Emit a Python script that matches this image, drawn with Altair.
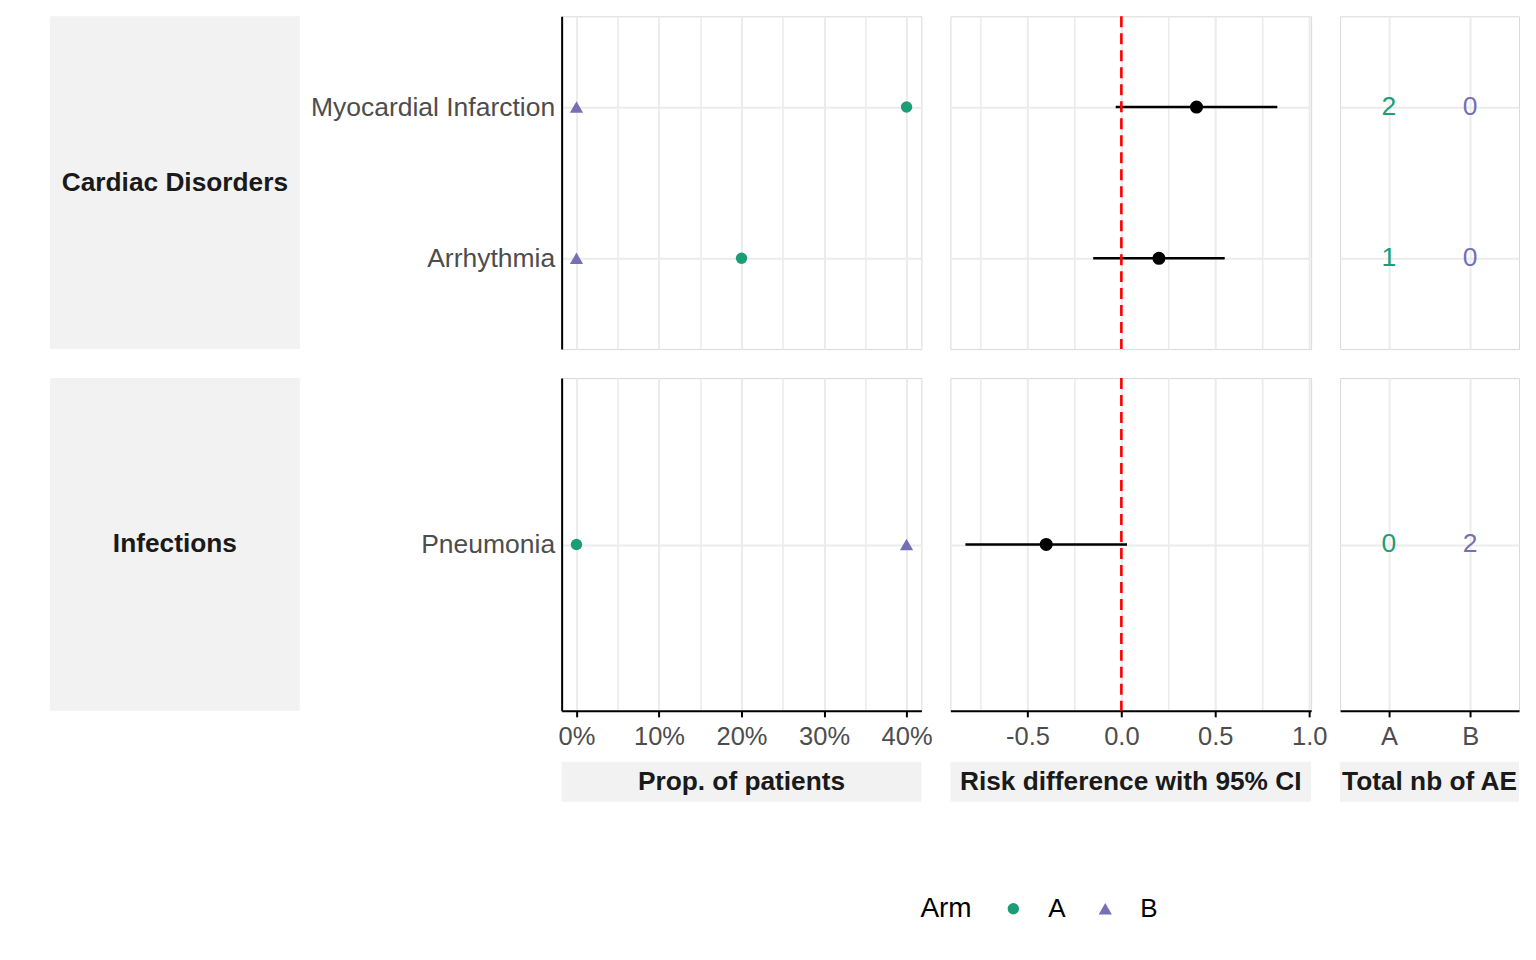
import altair as alt
import pandas as pd

# ---------------- data ----------------
soc = ["Cardiac Disorders", "Cardiac Disorders", "Infections"]
pt = ["Myocardial Infarction", "Arrhythmia", "Pneumonia"]
arms = ["A", "B"]
prop_a = [0.40, 0.20, 0.00]
prop_b = [0.00, 0.00, 0.40]
n_a = [2, 1, 0]
n_b = [0, 0, 2]
rd = [0.40, 0.20, -0.40]
rd_lo = [-0.03, -0.15, -0.83]
rd_hi = [0.83, 0.55, 0.03]
ref_line = [0.0]
prop_ticks = [0.0, 0.05, 0.10, 0.15, 0.20, 0.25, 0.30, 0.35, 0.40]
rd_ticks = [-0.75, -0.5, -0.25, 0.0, 0.25, 0.5, 0.75, 1.0]
panel_titles = ["Prop. of patients", "Risk difference with 95% CI", "Total nb of AE"]
soc_levels = ["Cardiac Disorders", "Infections"]

GREEN = "#1B9E77"
PURPLE = "#7570B3"
FONT = "Liberation Sans"
STRIP = "#F2F2F2"
GRID = "#EBEBEB"

long_rows = []
for s, p, pa, pb, na, nb in zip(soc, pt, prop_a, prop_b, n_a, n_b):
    long_rows.append({"soc": s, "pt": p, "arm": "A", "prop": pa, "n": na})
    long_rows.append({"soc": s, "pt": p, "arm": "B", "prop": pb, "n": nb})
long = pd.DataFrame(long_rows)
rd_df = pd.DataFrame({"soc": soc, "pt": pt, "rd": rd, "lo": rd_lo, "hi": rd_hi})
ref_df = pd.DataFrame({"x": ref_line})

W_STRIP, W_PROP, W_RD, W_AE = 250, 360, 361, 179
GAP = 29
W_COL0 = W_STRIP + 262 - GAP   # strip + room for the y labels
H = 333
H_BOT = 62                      # bottom strips: 22 px room for axis labels + 40 px strip
NO_VIEW = alt.ViewBackground(fill="transparent", stroke="transparent")
G_MAJOR, G_MINOR = 2.0, 1.6

legend = alt.Legend(
    title="Arm", orient="none", legendX=871, legendY=880, direction="horizontal",
    titleOrient="left", titleFontSize=28, titleFontWeight="normal", titleColor="black",
    titleFont=FONT, labelFont=FONT, labelFontSize=26, labelColor="black",
    symbolSize=130, labelOffset=22, columnPadding=26, titlePadding=28,
    symbolStrokeWidth=0, padding=0,
)


def x_axis(values, test, label_expr, bottom):
    ax = dict(
        values=values, title=None, grid=True, gridColor=GRID,
        gridWidth={"condition": {"test": test, "value": G_MAJOR}, "value": G_MINOR},
    )
    if bottom:
        ax.update(
            labels=True, labelExpr=label_expr, labelFont=FONT, labelFontSize=25.5,
            labelColor="#4D4D4D", labelPadding=8, ticks=True, tickSize=6, tickWidth=2,
            tickColor={"condition": {"test": test, "value": "black"}, "value": "transparent"},
            domain=True, domainColor="black", domainWidth=2, labelFlush=False,
        )
    else:
        ax.update(labels=False, ticks=False, domain=False)
    return alt.Axis(**ax)


def y_enc(order, labels):
    if labels:
        ax = alt.Axis(
            title=None, labels=True, labelFont=FONT, labelFontSize=26.5, labelColor="#4D4D4D",
            labelPadding=7, labelLimit=400, ticks=False, domain=True, domainColor="black",
            domainWidth=2, grid=True, gridColor=GRID, gridWidth=G_MAJOR,
        )
    else:
        ax = alt.Axis(title=None, labels=False, ticks=False, domain=False,
                      grid=True, gridColor=GRID, gridWidth=G_MAJOR)
    return alt.Y("pt:N", scale=alt.Scale(type="point", domain=order, padding=0.6), axis=ax)


def strip_cell(text, strip_w, cell_w, cell_h, top):
    df = pd.DataFrame({"t": [text]})
    base = alt.Chart(df)
    rect = base.mark_rect(color=STRIP).encode(
        x=alt.value(0), x2=alt.value(strip_w), y=alt.value(top), y2=alt.value(cell_h))
    txt = base.mark_text(font=FONT, fontSize=26.3, fontWeight="bold", color="#1A1A1A",
                         align="center", baseline="middle").encode(
        text="t:N", x=alt.value(strip_w / 2), y=alt.value(top + (cell_h - top) / 2))
    return alt.layer(rect, txt).properties(width=cell_w, height=cell_h, view=NO_VIEW)


def row(s, bottom):
    order = [p for p, ss in zip(pt, soc) if ss == s]
    d = long[long.soc == s]
    r = rd_df[rd_df.soc == s]

    strip = strip_cell(s, W_STRIP, W_COL0, H, 0)

    px = alt.X("prop:Q", scale=alt.Scale(domain=[-0.018, 0.418], nice=False, zero=False),
               axis=x_axis(prop_ticks, "round(datum.value*20) % 2 == 0",
                           "round(datum.value*20) % 2 == 0 ? format(datum.value, '.0%') : ''",
                           bottom))
    prop = (
        alt.Chart(d)
        .mark_point(filled=True, opacity=1)
        .encode(
            x=px,
            y=y_enc(order, True),
            color=alt.Color("arm:N", scale=alt.Scale(domain=arms, range=[GREEN, PURPLE]), legend=legend),
            shape=alt.Shape("arm:N", scale=alt.Scale(domain=arms, range=["circle", "triangle-up"]), legend=legend),
            size=alt.Size("arm:N", scale=alt.Scale(domain=arms, range=[130, 175]), legend=None),
        )
        .properties(width=W_PROP, height=H)
    )

    rscale = alt.Scale(domain=[-0.91, 1.01], nice=False, zero=False)
    raxis = x_axis(rd_ticks, "round(datum.value*4) % 2 == 0",
                   "round(datum.value*4) % 2 == 0 ? replace(format(datum.value, '.1f'), '−', '-') : ''",
                   bottom)
    bars = alt.Chart(r).mark_rule(color="black", strokeWidth=2.6).encode(
        x=alt.X("lo:Q", scale=rscale, axis=raxis), x2="hi:Q", y=y_enc(order, False))
    pts = alt.Chart(r).mark_circle(color="black", opacity=1, size=170).encode(
        x=alt.X("rd:Q"), y=y_enc(order, False))
    vline = alt.Chart(ref_df).mark_rule(color="#FF0000", strokeWidth=2.6, strokeDash=[11, 6]).encode(
        x=alt.X("x:Q"))
    rdc = alt.layer(bars, pts, vline).properties(width=W_RD, height=H)

    ae_axis = dict(values=arms, title=None, grid=True, gridColor=GRID, gridWidth=G_MAJOR)
    if bottom:
        ae_axis.update(labels=True, labelFont=FONT, labelFontSize=25.5, labelColor="#4D4D4D",
                       labelPadding=8, ticks=True, tickSize=6, tickWidth=2, tickColor="black",
                       domain=True, domainColor="black", domainWidth=2, labelAngle=0)
    else:
        ae_axis.update(labels=False, ticks=False, domain=False)
    ae = (
        alt.Chart(d)
        .mark_text(font=FONT, fontSize=26.5, align="center", baseline="middle")
        .encode(
            x=alt.X("arm:N", scale=alt.Scale(type="point", domain=arms, padding=0.6),
                    axis=alt.Axis(**ae_axis)),
            y=y_enc(order, False),
            text="n:Q",
            color=alt.Color("arm:N", scale=alt.Scale(domain=arms, range=[GREEN, PURPLE]), legend=None),
        )
        .properties(width=W_AE, height=H)
    )
    return [strip, prop, rdc, ae]


spacer = (
    alt.Chart(pd.DataFrame({"t": [""]}))
    .mark_text()
    .encode(text="t:N", x=alt.value(0), y=alt.value(0))
    .properties(width=W_COL0, height=H_BOT, view=NO_VIEW)
)
bottom_cells = [
    spacer,
    strip_cell(panel_titles[0], W_PROP, W_PROP, H_BOT, 22),
    strip_cell(panel_titles[1], W_RD, W_RD, H_BOT, 22),
    strip_cell(panel_titles[2], W_AE, W_AE, H_BOT, 22),
]

cells = row(soc_levels[0], False) + row(soc_levels[1], True) + bottom_cells

chart = (
    alt.concat(*cells, columns=4, spacing=GAP, bounds="flush")
    .properties(padding={"left": 41, "top": 6, "right": 8, "bottom": 8})
    .configure(font=FONT)
    .configure_view(stroke="#D9D9D9", strokeWidth=1)
)

chart.save("out.html", embed_options={"renderer": "svg", "actions": False})
